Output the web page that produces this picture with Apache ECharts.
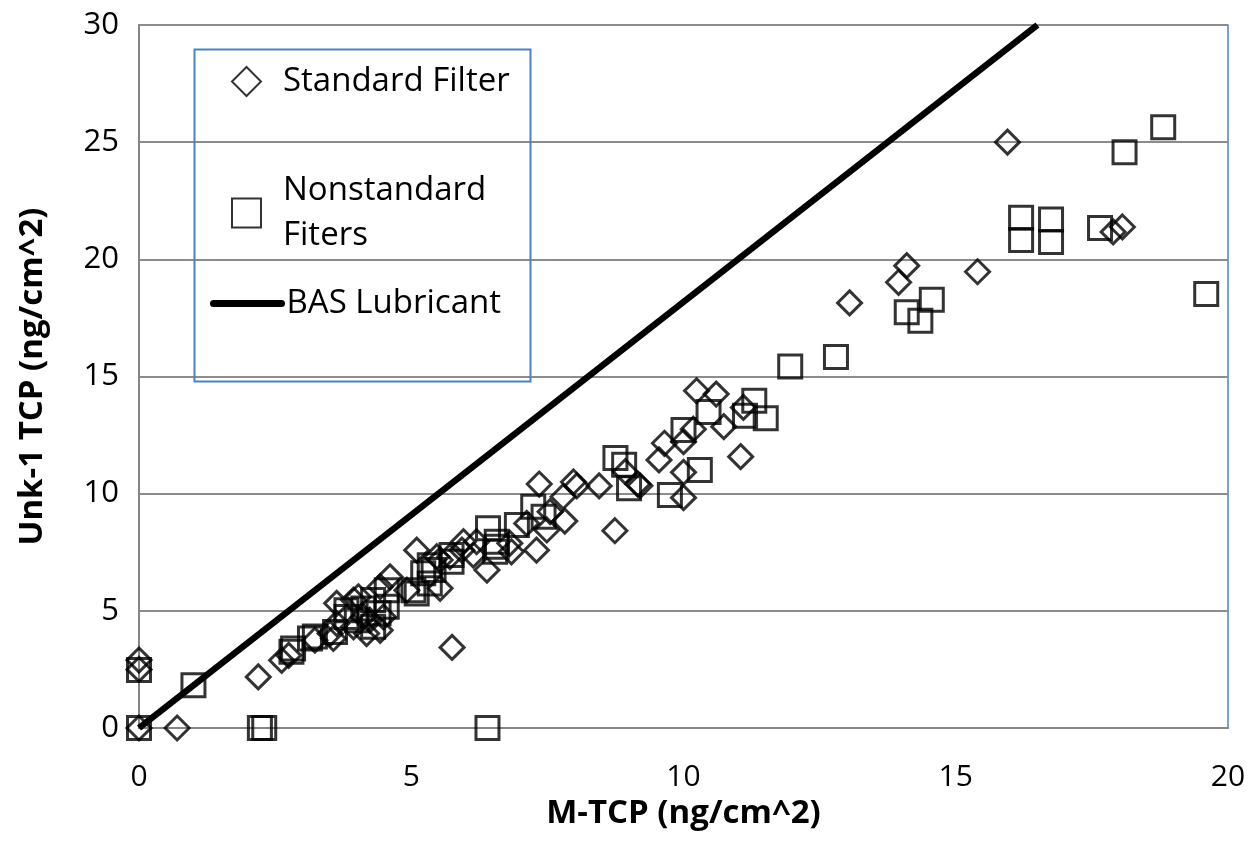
<!DOCTYPE html>
<html>
<head>
<meta charset="utf-8">
<script src="https://cdn.jsdelivr.net/npm/echarts@6/dist/echarts.min.js"></script>
<style>
  html, body { margin: 0; padding: 0; background: #fff; }
  #chart { width: 1252px; height: 856px; }
</style>
</head>
<body>
<div id="chart"></div>
<script>
// ---- Data ----
const xTicks = [0, 5, 10, 15, 20];
const yTicks = [0, 5, 10, 15, 20, 25, 30];

const standardFilter = [
  [0,0],[0,2.5],[0,2.9],[0.7,0],[2.19,2.18],[2.62,2.89],[2.75,3.1],[3.23,3.75],
  [3.51,4.03],[3.57,3.82],[3.63,4.46],[3.63,5.32],[3.94,4.32],[3.94,5.46],[4.03,5.6],
  [4.12,4.74],[4.18,4.03],[4.24,4.6],[4.43,4.17],[4.43,6.03],[4.49,4.74],[4.61,6.45],
  [4.92,5.88],[5.1,7.59],[5.47,7.31],[5.53,5.96],[5.53,7.17],[5.71,7.31],[5.75,3.44],
  [5.93,7.59],[5.96,7.95],[6.14,7.38],[6.2,7.95],[6.39,6.74],[6.81,7.88],[6.84,7.52],
  [7.12,8.73],[7.3,7.59],[7.35,10.41],[7.49,8.45],[7.55,9.23],[7.79,9.87],[7.82,8.83],
  [7.98,10.5],[8.04,10.33],[8.45,10.33],[8.74,8.42],[8.93,10.94],[9.16,10.41],[9.2,10.34],
  [9.55,11.44],[9.65,12.15],[10.0,12.22],[10.0,10.91],[10.0,9.83],[10.18,12.75],[10.24,14.39],
  [10.6,14.25],[10.74,12.86],[11.05,11.58],[11.1,13.68],[13.05,18.14],[13.95,19.02],
  [14.1,19.73],[15.4,19.47],[15.95,25.0],[17.89,21.17],[18.06,21.38]
];

const nonstandardFilters = [
  [0,0],[0,2.47],[1.0,1.82],[2.22,0],[2.3,0],[6.4,0],[2.8,3.25],[2.83,3.39],[3.14,3.82],
  [3.23,3.9],[3.6,4.1],[3.81,4.74],[3.81,5.03],[4.0,4.6],[4.12,5.1],[4.3,5.46],[4.3,4.32],
  [4.4,4.9],[4.55,5.17],[4.55,5.88],[5.04,5.88],[5.1,5.74],[5.22,6.6],[5.34,6.95],[5.34,6.17],
  [5.41,6.74],[5.74,7.38],[5.74,7.09],[6.41,8.52],[6.57,7.95],[6.57,7.74],[6.54,7.52],
  [6.94,8.66],[7.24,9.44],[7.43,9.02],[8.75,11.52],[8.91,11.23],[9.0,10.23],[9.75,9.94],
  [10.0,12.72],[10.3,11.01],[10.46,13.48],[11.13,13.32],[11.3,13.96],[11.51,13.22],
  [11.96,15.43],[12.8,15.83],[14.1,17.74],[14.35,17.38],[14.56,18.28],[16.2,21.77],
  [16.2,20.83],[16.75,21.7],[16.75,20.74],[17.65,21.34],[18.1,24.57],[18.81,25.64],[19.6,18.52]
];

const basLubricant = [[0,0],[16.5,30]];

const seriesNames = ['Standard Filter', 'Nonstandard\nFiters', 'BAS Lubricant'];
const xTitle = 'M-TCP (ng/cm^2)';
const yTitle = 'Unk-1 TCP (ng/cm^2)';

// ---- Chart ----
const FONT = "'Open Sans', 'Liberation Sans', sans-serif";
const chart = echarts.init(document.getElementById('chart'), null, { renderer: 'canvas' });

const legendText = { fontFamily: FONT, fontSize: 33, color: '#000', lineHeight: 45 };
const legendTextShift = Object.assign({}, legendText, { padding: [0, 0, 0, 17] });
const hollow = { color: 'transparent', borderColor: '#000', borderWidth: 2 };

chart.setOption({
  backgroundColor: '#ffffff',
  animation: false,
  grid: {
    left: 139, top: 25, right: 24, bottom: 128,
    show: true, borderColor: '#4f81bd', borderWidth: 1.5, backgroundColor: 'transparent'
  },
  xAxis: {
    type: 'value', min: 0, max: 20, interval: 5,
    name: xTitle, nameLocation: 'middle', nameGap: 57,
    nameTextStyle: { fontFamily: FONT, fontSize: 33, fontWeight: 'bold', color: '#000' },
    axisLine: { show: true, lineStyle: { color: '#868686', width: 2 } },
    axisTick: { show: false },
    splitLine: { show: false },
    axisLabel: { fontFamily: FONT, fontSize: 30, color: '#000', margin: 34,
      formatter: v => xTicks.includes(v) ? String(v) : '' }
  },
  yAxis: {
    type: 'value', min: 0, max: 30, interval: 5,
    name: yTitle, nameLocation: 'middle', nameGap: 90,
    nameTextStyle: { fontFamily: FONT, fontSize: 33, fontWeight: 'bold', color: '#000' },
    axisLine: { show: true, lineStyle: { color: '#868686', width: 2 } },
    axisTick: { show: false },
    splitLine: { show: true, lineStyle: { color: '#8c8c8c', width: 2 } },
    axisLabel: { fontFamily: FONT, fontSize: 31, color: '#000', margin: 20,
      formatter: v => yTicks.includes(v) ? String(v) : '' }
  },
  graphic: [{
    type: 'rect', left: 192, top: 47, z: 50,
    shape: { width: 336, height: 332 },
    style: { fill: 'none', stroke: '#4f81bd', lineWidth: 2 }
  }],
  legend: [
    { data: [seriesNames[0]], left: 226, top: 54, itemWidth: 29, itemHeight: 29,
      textStyle: legendTextShift, selectedMode: false, itemStyle: hollow },
    { data: [seriesNames[1]], left: 226, top: 163, itemWidth: 29, itemHeight: 29,
      textStyle: legendTextShift, selectedMode: false, itemStyle: hollow },
    { data: [seriesNames[2]], left: 205, top: 276, itemWidth: 68, itemHeight: 24,
      textStyle: legendText, selectedMode: false,
      itemStyle: { color: 'transparent', borderWidth: 0, opacity: 0 },
      lineStyle: { color: '#000', width: 7, cap: 'round' } }
  ],
  series: [
    {
      name: seriesNames[0], type: 'scatter', data: standardFilter,
      symbol: 'diamond', symbolSize: 24, z: 3,
      itemStyle: { color: 'transparent', borderColor: '#000', borderWidth: 3 }
    },
    {
      name: seriesNames[1], type: 'scatter', data: nonstandardFilters,
      symbol: 'rect', symbolSize: 23, z: 3,
      itemStyle: { color: 'transparent', borderColor: '#000', borderWidth: 3 }
    },
    {
      name: seriesNames[2], type: 'line', data: basLubricant,
      showSymbol: false, symbol: 'none', z: 4, clip: true,
      itemStyle: { color: '#000' },
      lineStyle: { color: '#000', width: 6.5 }
    }
  ]
});
</script>
</body>
</html>
